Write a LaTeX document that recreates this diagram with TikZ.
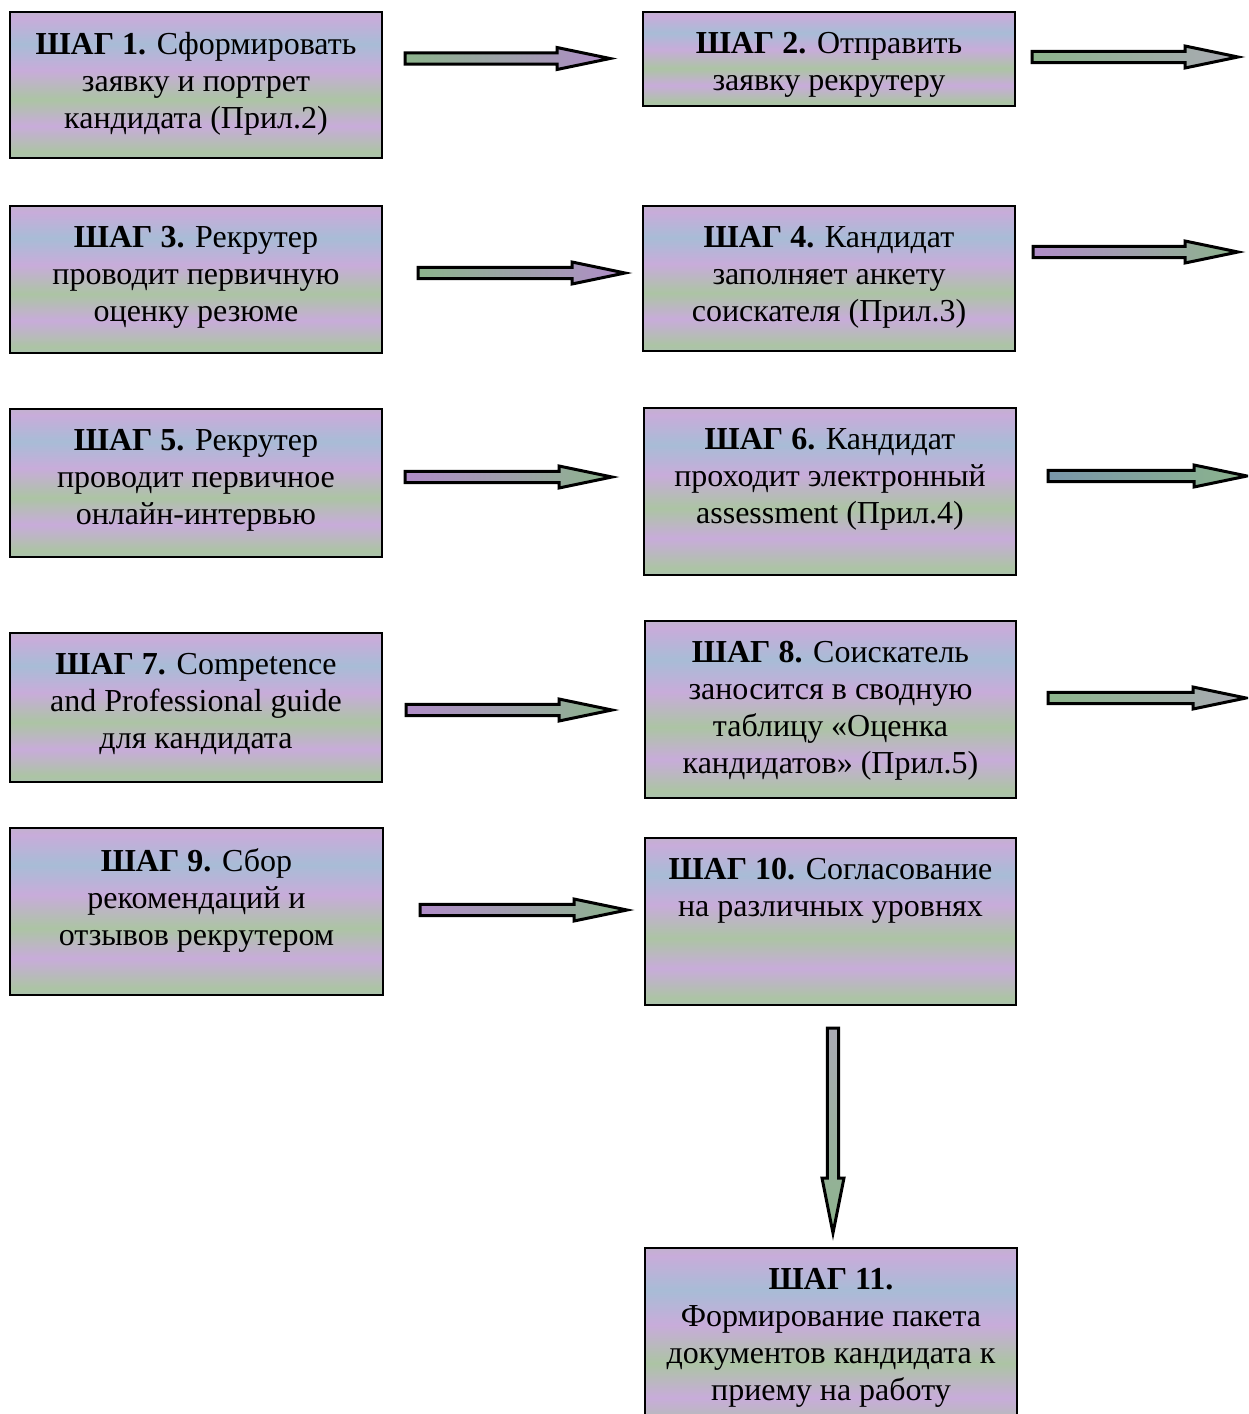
\documentclass[tikz,border=0pt]{standalone}
\usepackage{fontspec}
\setmainfont{Liberation Serif}
\usetikzlibrary{calc,fit}
\definecolor{lav}{RGB}{200,172,218}
\definecolor{grn}{RGB}{172,196,164}
\definecolor{blu}{RGB}{168,188,214}
\definecolor{pur}{RGB}{176,140,200}
\definecolor{agrn}{RGB}{140,180,140}
\definecolor{agry}{RGB}{170,170,180}
\definecolor{ablu}{RGB}{120,150,170}
\pgfdeclareverticalshading{boxshade}{100bp}{color(0bp)=(grn); color(8bp)=(lav); color(18bp)=(blu); color(27bp)=(grn); color(36bp)=(lav); color(45bp)=(grn); color(55bp)=(lav); color(64bp)=(blu); color(73bp)=(lav); color(82bp)=(grn); color(91bp)=(lav); color(100bp)=(grn)}
\tikzset{
  stepbox/.style={draw=black, line width=1.3pt, shade, shading=boxshade, inner sep=0pt},
  steptext/.style={anchor=north, align=center, inner sep=0pt,
    font=\fontsize{16}{18.5}\selectfont},
  blockarrow/.style={draw=black, line width=1.5pt, line join=miter}
}
\newcommand\harrow[4]{%
  \draw[blockarrow, left color=#3, right color=#4] let \p1=(#1), \p2=(#2) in
    (\x1,\y1+2.8pt) -- (\x2-26.5pt,\y1+2.8pt) -- (\x2-26.5pt,\y1+5.5pt) -- (\x2,\y1)
    -- (\x2-26.5pt,\y1-5.5pt) -- (\x2-26.5pt,\y1-2.8pt) -- (\x1,\y1-2.8pt) -- cycle;}
\newcommand\varrow[4]{%
  \draw[blockarrow, top color=#3, bottom color=#4] let \p1=(#1), \p2=(#2) in
    (\x1-2.8pt,\y1) -- (\x1-2.8pt,\y2+27.5pt) -- (\x1-5.5pt,\y2+27.5pt) -- (\x1,\y2)
    -- (\x1+5.5pt,\y2+27.5pt) -- (\x1+2.8pt,\y2+27.5pt) -- (\x1+2.8pt,\y1) -- cycle;}
\newcommand\stepnode[6]{%
  \node[stepbox, fit={(#2,#3)(#4,#5)}] (b#1) {};
  \node[steptext] (t#1) at ($(b#1.north)+(0,21)$) {#6};}
\begin{document}
\begin{tikzpicture}[x=0.5pt,y=-0.5pt]
\useasboundingbox (0,0) rectangle (1248,1414);
\clip (0,0) rectangle (1248,1414);
\fill[white] (0,0) rectangle (1248,1414);

\stepnode{1}{10}{12}{382}{158}{\textbf{ШАГ 1.} Сформировать\\заявку и портрет\\кандидата (Прил.2)}
\stepnode{2}{643}{12}{1015}{106}{\textbf{ШАГ 2.} Отправить\\заявку рекрутеру}
\stepnode{3}{10}{206}{382}{353}{\textbf{ШАГ 3.} Рекрутер\\проводит первичную\\оценку резюме}
\stepnode{4}{643}{206}{1015}{351}{\textbf{ШАГ 4.} Кандидат\\заполняет анкету\\соискателя (Прил.3)}
\stepnode{5}{10}{409}{382}{557}{\textbf{ШАГ 5.} Рекрутер\\проводит первичное\\онлайн-интервью}
\stepnode{6}{644}{408}{1016}{575}{\textbf{ШАГ 6.} Кандидат\\проходит электронный\\assessment (Прил.4)}
\stepnode{7}{10}{633}{382}{782}{\textbf{ШАГ 7.} Competence\\and Professional guide\\для кандидата}
\stepnode{8}{645}{621}{1016}{798}{\textbf{ШАГ 8.} Соискатель\\заносится в сводную\\таблицу «Оценка\\кандидатов» (Прил.5)}
\stepnode{9}{10}{828}{383}{995}{\textbf{ШАГ 9.} Сбор\\рекомендаций и\\отзывов рекрутером}
\stepnode{10}{645}{838}{1016}{1005}{\textbf{ШАГ 10.} Согласование\\на различных уровнях}
\stepnode{11}{645}{1248}{1017}{1440}{\textbf{ШАГ 11.}\\Формирование пакета\\документов кандидата к\\приему на работу}

% arrow end points
\coordinate (a1s) at (405,58.5);  \coordinate (a1e) at (610,58.5);
\coordinate (a2s) at (1032,57);   \coordinate (a2e) at (1238,57);
\coordinate (a3s) at (418,273);   \coordinate (a3e) at (625,273);
\coordinate (a4s) at (1033,252);  \coordinate (a4e) at (1238,252);
\coordinate (a5s) at (405,477);   \coordinate (a5e) at (612,477);
\coordinate (a6s) at (1048,476);  \coordinate (a6e) at (1247,476);
\coordinate (a7s) at (406,710);   \coordinate (a7e) at (612,710);
\coordinate (a8s) at (1048,698);  \coordinate (a8e) at (1246,698);
\coordinate (a9s) at (420,910);   \coordinate (a9e) at (627,910);
\coordinate (a10s) at (833,1028); \coordinate (a10e) at (833,1233);

\harrow{a1s}{a1e}{agrn}{pur}
\harrow{a2s}{a2e}{agrn}{agry}
\harrow{a3s}{a3e}{agrn}{pur}
\harrow{a4s}{a4e}{pur}{agrn}
\harrow{a5s}{a5e}{pur}{agrn}
\harrow{a6s}{a6e}{ablu}{agrn}
\harrow{a7s}{a7e}{pur}{agrn}
\harrow{a8s}{a8e}{agrn}{agry}
\harrow{a9s}{a9e}{pur}{agrn}
\varrow{a10s}{a10e}{agry}{agrn}
\end{tikzpicture}
\end{document}
